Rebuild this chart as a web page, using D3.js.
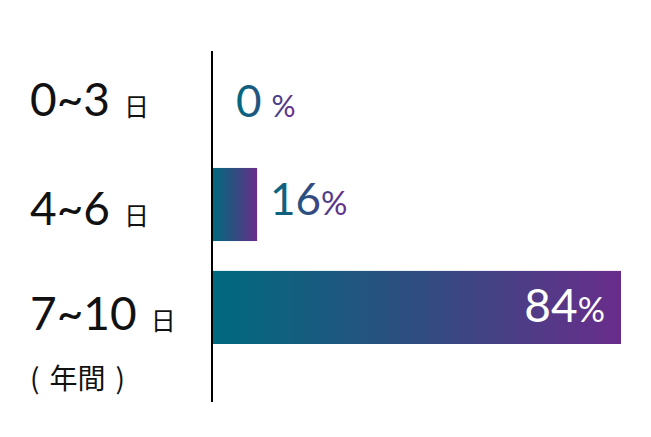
<!DOCTYPE html>
<html>
<head>
<meta charset="utf-8">
<script src="https://cdn.jsdelivr.net/npm/d3@7"></script>
<style>
  html, body { margin: 0; padding: 0; background: #fff; }
  svg { display: block; }
  text { font-family: Lato, "Noto Sans", sans-serif; font-weight: 400; }
  .cjk { font-family: "Noto Sans CJK JP", sans-serif; font-weight: 400; }
</style>
</head>
<body>
<svg id="chart"></svg>
<script>
// data
const ranges = ['0~3', '4~6', '7~10'];
const unit = '日';
const note = ['(', '年間', ')'];
const shares = [0, 16, 84];

// layout
const width = 651;
const height = 437;
const axisX = 212;
const catX = 30;
// per-row tweaks to match the original artwork
const catShift = [14, 20, 23];
const numSize = [44, 44, 46];
const pctSize = [30, 33, 34];
const valShift = [15, 10.5, 14.5];

const svg = d3.select('#chart')
  .attr('width', width)
  .attr('height', height);

const defs = svg.append('defs');
const grad = defs.append('linearGradient')
  .attr('id', 'barGrad')
  .attr('x1', 0).attr('x2', 1).attr('y1', 0).attr('y2', 0);
grad.append('stop').attr('offset', '0%').attr('stop-color', '#006a7f');
grad.append('stop').attr('offset', '50%').attr('stop-color', '#2f4d80');
grad.append('stop').attr('offset', '100%').attr('stop-color', '#692d8b');

const y = d3.scaleBand()
  .domain(ranges)
  .range([65, 344])
  .paddingInner(0.29);

// bar lengths in the original are not proportional; a power scale fits them
const x = d3.scalePow()
  .exponent(1.33)
  .domain([0, 84])
  .range([0, 409]);

const rows = ranges.map((r, i) => ({ label: r, value: shares[i], i }));

// bars
svg.append('g')
  .selectAll('rect')
  .data(rows.filter(d => d.value > 0))
  .join('rect')
  .attr('x', axisX)
  .attr('y', d => y(d.label))
  .attr('width', d => x(d.value))
  .attr('height', y.bandwidth())
  .attr('fill', 'url(#barGrad)');

// axis line
svg.append('line')
  .attr('x1', axisX).attr('x2', axisX)
  .attr('y1', 51).attr('y2', 402)
  .attr('stroke', '#000')
  .attr('stroke-width', 2);

// category labels
const cat = svg.append('g')
  .selectAll('text')
  .data(rows)
  .join('text')
  .attr('x', catX)
  .attr('y', d => y(d.label) + y.bandwidth() / 2 + catShift[d.i])
  .attr('fill', '#111');
cat.append('tspan')
  .style('font-size', '46px')
  .text(d => d.label);
cat.append('tspan')
  .attr('class', 'cjk')
  .attr('dx', 14)
  .style('font-size', '25px')
  .text(unit);

const noteText = svg.append('text')
  .attr('class', 'cjk')
  .attr('x', catX)
  .attr('y', 389)
  .attr('fill', '#111')
  .style('font-size', '28px');
noteText.append('tspan').text(note[0]);
noteText.append('tspan').attr('dx', 10).text(note[1]);
noteText.append('tspan').attr('dx', 10).text(note[2]);

// value labels
const val = svg.append('g')
  .selectAll('text')
  .data(rows)
  .join('text')
  .attr('x', d => {
    if (d.value === 0) return axisX + 24;
    if (d.i === rows.length - 1) return axisX + x(d.value) - 16;
    return axisX + x(d.value) + 13;
  })
  .attr('y', d => y(d.label) + y.bandwidth() / 2 + valShift[d.i])
  .attr('text-anchor', d => (d.i === rows.length - 1 ? 'end' : 'start'))
  .attr('fill', d => (d.i === rows.length - 1 ? '#fff' : 'url(#barGrad)'));
val.append('tspan')
  .style('font-size', d => numSize[d.i] + 'px')
  .text(d => d.value);
val.append('tspan')
  .attr('dx', d => (d.value === 0 ? 10 : 0))
  .style('font-size', d => pctSize[d.i] + 'px')
  .text('%');
</script>
</body>
</html>
